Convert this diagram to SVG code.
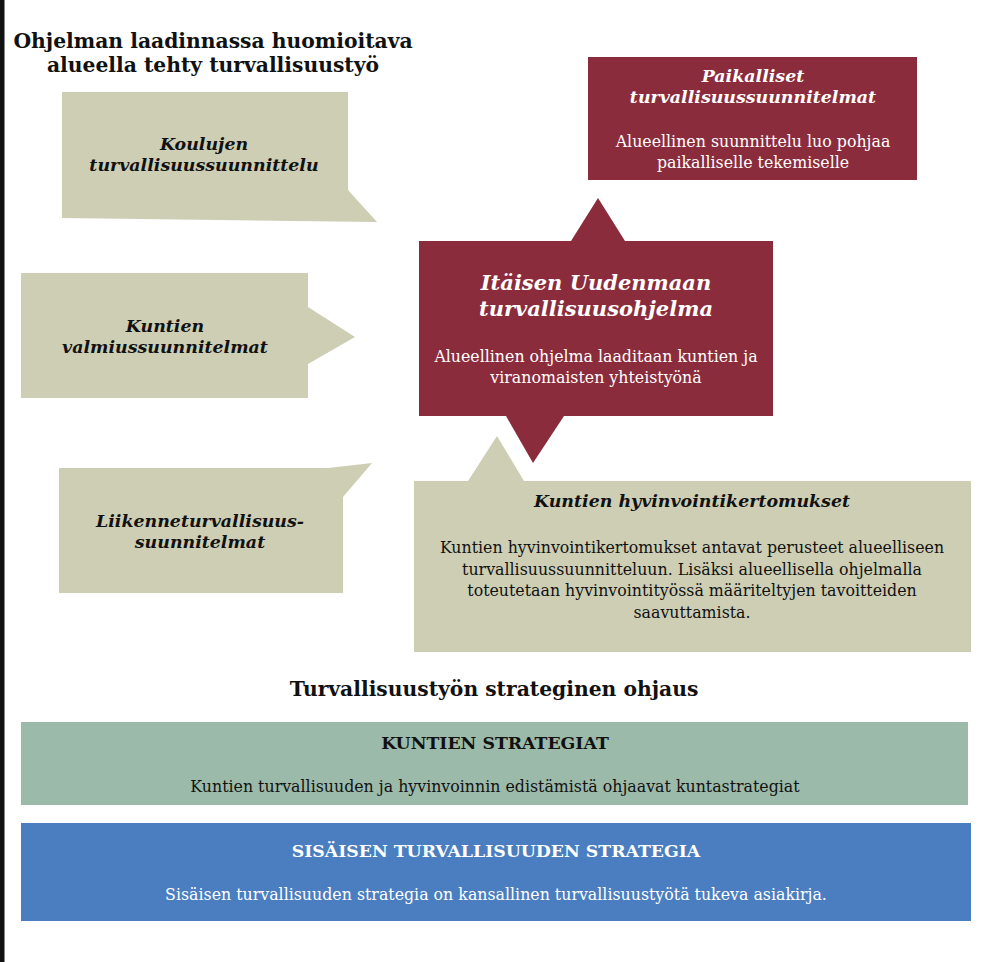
<svg xmlns="http://www.w3.org/2000/svg" width="999" height="962" viewBox="0 0 999 962">
<defs>
<style>
text{font-family:"DejaVu Serif","Liberation Serif",serif;text-anchor:middle}
.h{font-weight:bold;font-size:20.3px;fill:#111}
.bi{font-weight:bold;font-style:italic;font-size:17.4px;fill:#111}
.biw{font-weight:bold;font-style:italic;font-size:17.4px;fill:#fff}
.big{font-weight:bold;font-style:italic;font-size:21px;fill:#fff}
.b{font-size:15.8px;fill:#111}
.bw{font-size:15.8px;fill:#fff}
.cap{font-weight:bold;font-size:17.3px;fill:#111}
.capw{font-weight:bold;font-size:17.3px;fill:#fff}
.olive{fill:#cdceb4}
.red{fill:#8b2c3c}
</style>
</defs>
<rect width="999" height="962" fill="#fff"/>
<rect x="0" y="0" width="4.5" height="962" fill="#111"/>
<g id="title">
<text class="h" x="213" y="48">Ohjelman laadinnassa huomioitava</text>
<text class="h" x="213" y="72">alueella tehty turvallisuustyö</text>
</g>
<g id="koulujen">
<polygon class="olive" points="62,92 348,92 348,190 377,222 62,218"/>
<text class="bi" x="204" y="150">Koulujen</text>
<text class="bi" x="204" y="171">turvallisuussuunnittelu</text>
</g>
<g id="valmius">
<polygon class="olive" points="21,273 308,273 308,307 355,337 308,364 308,398 21,398"/>
<text class="bi" x="165" y="332">Kuntien</text>
<text class="bi" x="165" y="353">valmiussuunnitelmat</text>
</g>
<g id="liikenne">
<polygon class="olive" points="59,468 328,468 372,463 343,497 343,593 59,593"/>
<text class="bi" x="200" y="527">Liikenneturvallisuus-</text>
<text class="bi" x="200" y="548">suunnitelmat</text>
</g>
<g id="hyvinvointi">
<polygon class="olive" points="414,481 468,481 497,436 524,481 971,481 971,652 414,652"/>
<text class="bi" x="692" y="507">Kuntien hyvinvointikertomukset</text>
<text class="b" x="692" y="553">Kuntien hyvinvointikertomukset antavat perusteet alueelliseen</text>
<text class="b" x="692" y="574.5">turvallisuussuunnitteluun. Lisäksi alueellisella ohjelmalla</text>
<text class="b" x="692" y="596">toteutetaan hyvinvointityössä määriteltyjen tavoitteiden</text>
<text class="b" x="692" y="617.5">saavuttamista.</text>
</g>
<g id="paikalliset">
<rect class="red" x="588" y="57" width="329" height="123"/>
<text class="biw" x="753" y="82">Paikalliset</text>
<text class="biw" x="753" y="103">turvallisuussuunnitelmat</text>
<text class="bw" x="753" y="147">Alueellinen suunnittelu luo pohjaa</text>
<text class="bw" x="753" y="168">paikalliselle tekemiselle</text>
</g>
<g id="ohjelma">
<polygon class="red" points="419,241 571,241 598,198 625,241 773,241 773,416 564,416 533,463 506,416 419,416"/>
<text class="big" x="596" y="290">Itäisen Uudenmaan</text>
<text class="big" x="596" y="316">turvallisuusohjelma</text>
<text class="bw" x="596" y="362">Alueellinen ohjelma laaditaan kuntien ja</text>
<text class="bw" x="596" y="383">viranomaisten yhteistyönä</text>
</g>
<g id="connectors"></g>
<g id="ohjaus">
<text class="h" x="494" y="696">Turvallisuustyön strateginen ohjaus</text>
</g>
<g id="kuntien-strategiat">
<rect x="21" y="722" width="947" height="83" fill="#9cbaaa"/>
<text class="cap" x="495" y="749">KUNTIEN STRATEGIAT</text>
<text class="b" x="495" y="792">Kuntien turvallisuuden ja hyvinvoinnin edistämistä ohjaavat kuntastrategiat</text>
</g>
<g id="sisainen">
<rect x="21" y="823" width="950" height="98" fill="#4a7ec0"/>
<text class="capw" x="496" y="857">SISÄISEN TURVALLISUUDEN STRATEGIA</text>
<text class="bw" x="496" y="900">Sisäisen turvallisuuden strategia on kansallinen turvallisuustyötä tukeva asiakirja.</text>
</g>
</svg>
